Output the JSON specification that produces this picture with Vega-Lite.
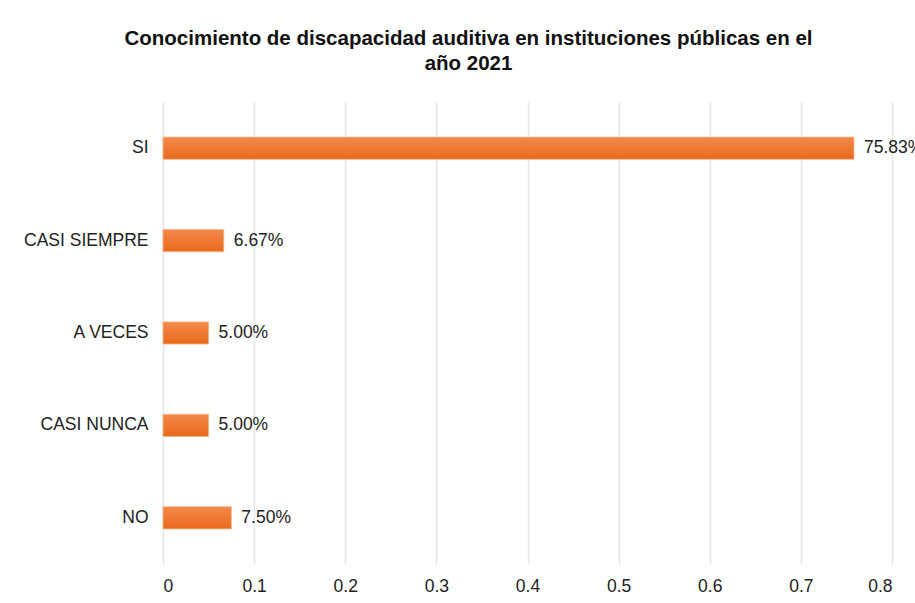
{
  "$schema": "https://vega.github.io/schema/vega-lite/v6.json",
  "width": 729,
  "height": 462,
  "autosize": {"type": "none"},
  "padding": {"left": 163, "top": 102, "right": 23, "bottom": 39},
  "background": "white",
  "title": {
    "text": ["Conocimiento de discapacidad auditiva en instituciones públicas en el", "año 2021"],
    "font": "Liberation Sans",
    "fontSize": 20.5,
    "fontWeight": "bold",
    "color": "#111111",
    "lineHeight": 25,
    "anchor": "middle",
    "dx": -59,
    "offset": 28
  },
  "data": {
    "values": [
      {"respuesta": "SI", "valor": 0.7583, "etiqueta": "75.83%"},
      {"respuesta": "CASI SIEMPRE", "valor": 0.0667, "etiqueta": "6.67%"},
      {"respuesta": "A VECES", "valor": 0.05, "etiqueta": "5.00%"},
      {"respuesta": "CASI NUNCA", "valor": 0.05, "etiqueta": "5.00%"},
      {"respuesta": "NO", "valor": 0.075, "etiqueta": "7.50%"}
    ]
  },
  "encoding": {
    "y": {
      "field": "respuesta",
      "type": "nominal",
      "sort": null,
      "scale": {"paddingInner": 0.76, "paddingOuter": 0.38},
      "axis": {
        "title": null,
        "domain": false,
        "ticks": false,
        "labelPadding": 15,
        "labelFont": "Liberation Sans",
        "labelFontSize": 17.5,
        "labelColor": "#222222",
        "grid": false
      }
    },
    "x": {
      "field": "valor",
      "type": "quantitative",
      "scale": {"domain": [0, 0.8], "nice": false},
      "axis": {
        "title": null,
        "values": [0, 0.1, 0.2, 0.3, 0.4, 0.5, 0.6, 0.7, 0.8],
        "format": "~g",
        "domain": false,
        "ticks": false,
        "labelPadding": 13,
        "labelFont": "Liberation Sans",
        "labelFontSize": 17.5,
        "labelColor": "#222222",
        "grid": true,
        "gridColor": "#e1e5ee",
        "gridWidth": 1.5
      }
    }
  },
  "layer": [
    {
      "mark": {
        "type": "bar",
        "color": {
          "gradient": "linear",
          "x1": 0, "y1": 0, "x2": 0, "y2": 1,
          "stops": [
            {"offset": 0, "color": "#f4894a"},
            {"offset": 1, "color": "#e86a1c"}
          ]
        },
        "stroke": "#f7b48a",
        "strokeWidth": 0.8
      }
    },
    {
      "mark": {
        "type": "text",
        "align": "left",
        "baseline": "middle",
        "dx": 10,
        "font": "Liberation Sans",
        "fontSize": 17.5,
        "color": "#222222",
        "clip": false
      },
      "encoding": {
        "text": {"field": "etiqueta"}
      }
    }
  ],
  "config": {
    "view": {"stroke": null}
  }
}
